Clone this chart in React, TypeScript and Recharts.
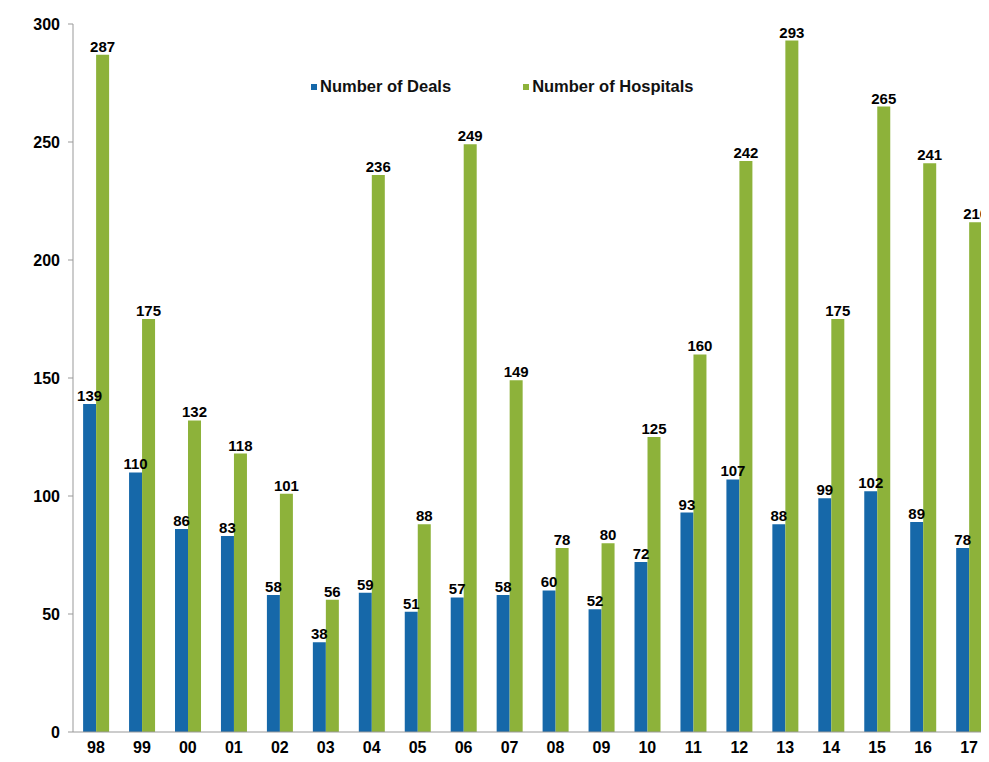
import React from 'react';
import { BarChart, Bar, XAxis, YAxis, LabelList } from 'recharts';

const years = ['98', '99', '00', '01', '02', '03', '04', '05', '06', '07', '08', '09', '10', '11', '12', '13', '14', '15', '16', '17'];
const deals = [139, 110, 86, 83, 58, 38, 59, 51, 57, 58, 60, 52, 72, 93, 107, 88, 99, 102, 89, 78];
const hospitals = [287, 175, 132, 118, 101, 56, 236, 88, 249, 149, 78, 80, 125, 160, 242, 293, 175, 265, 241, 216];
const yTicks = [0, 50, 100, 150, 200, 250, 300];

const data = years.map((year, i) => ({ year, deals: deals[i], hospitals: hospitals[i] }));

const BLUE = '#1668a9';
const GREEN = '#8db23a';
const FONT = 'Arial, "Liberation Sans", sans-serif';

const labelStyle = { fill: '#000', fontSize: 15, fontWeight: 700, fontFamily: FONT };
const tickStyle = { fill: '#000', fontSize: 16, fontWeight: 700, fontFamily: FONT };

const LegendBox = () => (
  <div
    style={{
      position: 'absolute',
      top: 77,
      left: 311,
      display: 'flex',
      fontFamily: FONT,
      fontWeight: 700,
      fontSize: 16.5,
      color: '#111',
    }}
  >
    <div style={{ display: 'flex', alignItems: 'center', marginRight: 72 }}>
      <span style={{ width: 6, height: 6, background: BLUE, marginRight: 3, display: 'inline-block' }} />
      Number of Deals
    </div>
    <div style={{ display: 'flex', alignItems: 'center' }}>
      <span style={{ width: 6, height: 6, background: GREEN, marginRight: 3, display: 'inline-block' }} />
      Number of Hospitals
    </div>
  </div>
);

export default function App() {
  return (
    <div style={{ margin: -8, width: 989, height: 762, overflow: 'hidden', background: '#fff', position: 'relative' }}>
      <BarChart
        width={1001}
        height={762}
        data={data}
        margin={{ top: 24, right: 9, bottom: 0, left: 0 }}
        barGap={0}
        barCategoryGap="22%"
      >
        <XAxis
          dataKey="year"
          axisLine={{ stroke: '#999' }}
          tickLine={false}
          tick={tickStyle}
          tickMargin={4}
          height={30}
          interval={0}
        />
        <YAxis
          domain={[0, 300]}
          ticks={yTicks}
          width={73}
          axisLine={{ stroke: '#999' }}
          tickLine={{ stroke: '#999' }}
          tickSize={5}
          tickMargin={8}
          tick={tickStyle}
        />
        <Bar dataKey="deals" fill={BLUE} isAnimationActive={false}>
          <LabelList dataKey="deals" position="top" offset={3} style={labelStyle} />
        </Bar>
        <Bar dataKey="hospitals" fill={GREEN} isAnimationActive={false}>
          <LabelList dataKey="hospitals" position="top" offset={3} style={labelStyle} />
        </Bar>
      </BarChart>
      <LegendBox />
    </div>
  );
}
